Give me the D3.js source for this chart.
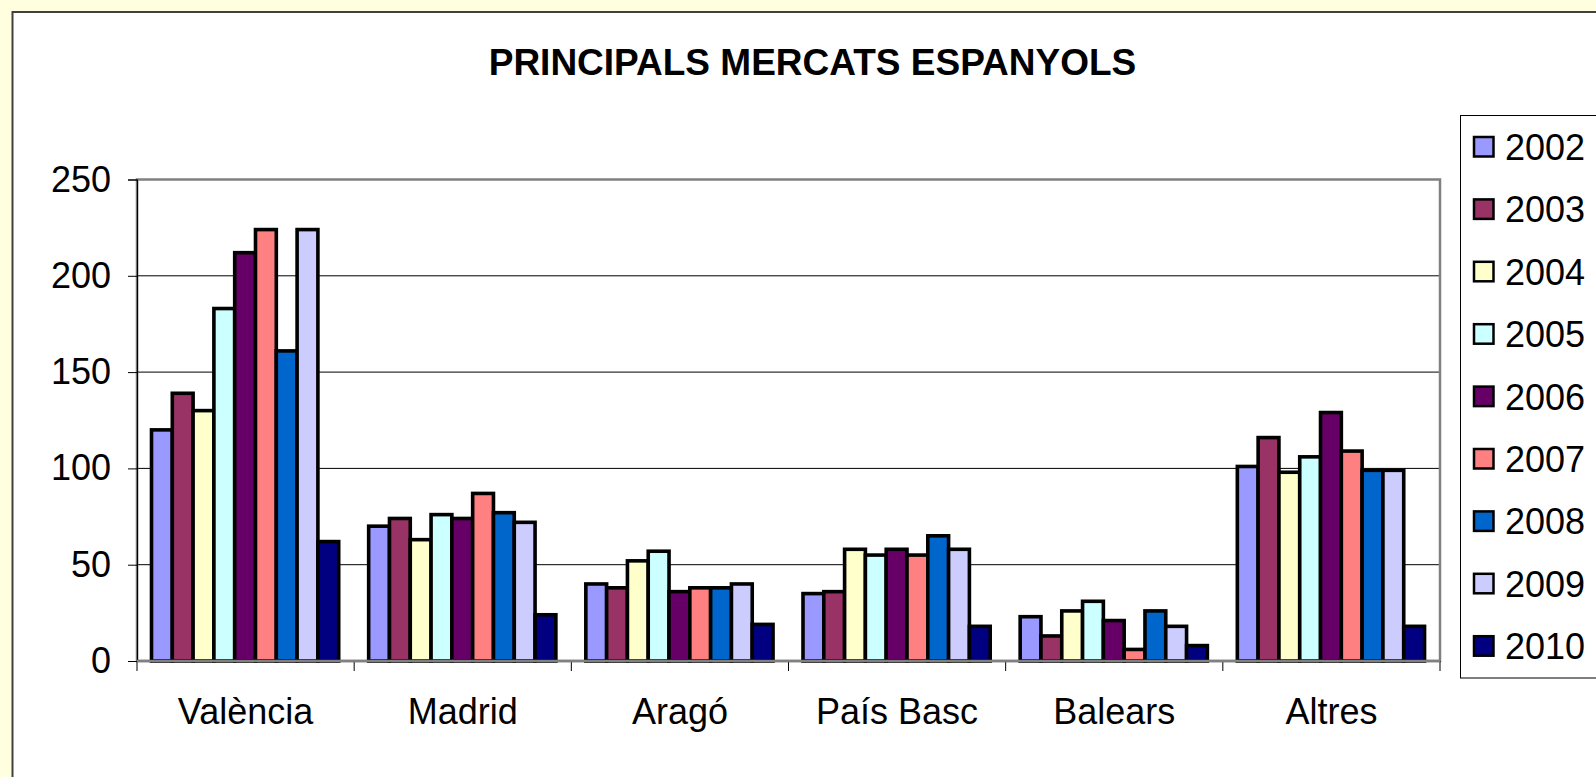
<!DOCTYPE html>
<html>
<head>
<meta charset="utf-8">
<script src="https://cdn.jsdelivr.net/npm/d3@7"></script>
<style>
  html, body { margin: 0; padding: 0; background: #FFFFE0; overflow: hidden; }
  svg { display: block; }
  text { font-family: "Liberation Sans", Arial, sans-serif; fill: #000; }
</style>
</head>
<body>
<svg id="chart" width="1596" height="777"></svg>
<script>
// ---- data ----
const title = "PRINCIPALS MERCATS ESPANYOLS";
const categories = ["València", "Madrid", "Aragó", "País Basc", "Balears", "Altres"];
const years = ["2002", "2003", "2004", "2005", "2006", "2007", "2008", "2009", "2010"];
const v2002 = [120, 70, 40, 35, 23, 101];
const v2003 = [139, 74, 38, 36, 13, 116];
const v2004 = [130, 63, 52, 58, 26, 98];
const v2005 = [183, 76, 57, 55, 31, 106];
const v2006 = [212, 74, 36, 58, 21, 129];
const v2007 = [224, 87, 38, 55, 6, 109];
const v2008 = [161, 77, 38, 65, 26, 99];
const v2009 = [224, 72, 40, 58, 18, 99];
const v2010 = [62, 24, 19, 18, 8, 18];
const colors = ["#9999FF", "#993366", "#FFFFCC", "#CCFFFF", "#660066", "#FF8080", "#0066CC", "#CCCCFF", "#000080"];
const yTicks = [0, 50, 100, 150, 200, 250];

const seriesValues = [v2002, v2003, v2004, v2005, v2006, v2007, v2008, v2009, v2010];
const series = years.map((y, i) => ({ year: y, color: colors[i], values: seriesValues[i] }));

// ---- layout ----
const svg = d3.select("#chart");
const plot = { left: 137, right: 1440, top: 179.5, bottom: 661 };

// outer chart area
svg.append("rect")
  .attr("x", 12.5).attr("y", 12)
  .attr("width", 1620).attr("height", 800)
  .attr("fill", "#ffffff").attr("stroke", "#404040").attr("stroke-width", 2);

// title
svg.append("text")
  .attr("x", 812.5).attr("y", 75)
  .attr("text-anchor", "middle")
  .attr("font-size", 37).attr("font-weight", "bold")
  .text(title);

const x0 = d3.scaleBand().domain(categories).range([plot.left, plot.right]).padding(0);
const barW = 20.8;
const x1 = d3.scaleBand().domain(years).range([14.5, 14.5 + 9 * barW]).padding(0);
const y = d3.scaleLinear().domain([0, 250]).range([plot.bottom, plot.top]);

// gridlines
svg.append("g").selectAll("line")
  .data(yTicks.filter(t => t > 0 && t < 250))
  .join("line")
  .attr("x1", plot.left).attr("x2", plot.right)
  .attr("y1", d => y(d)).attr("y2", d => y(d))
  .attr("stroke", "#000").attr("stroke-width", 1);

// plot border
svg.append("rect")
  .attr("x", plot.left).attr("y", plot.top)
  .attr("width", plot.right - plot.left).attr("height", plot.bottom - plot.top)
  .attr("fill", "none").attr("stroke", "#808080").attr("stroke-width", 2.5);

// bars
const groups = svg.append("g").selectAll("g")
  .data(series).join("g")
  .attr("fill", d => d.color);
groups.selectAll("rect")
  .data(d => d.values.map((v, i) => ({ v, cat: categories[i], year: d.year })))
  .join("rect")
  .attr("x", d => x0(d.cat) + x1(d.year))
  .attr("y", d => y(d.v))
  .attr("width", x1.bandwidth())
  .attr("height", d => y(0) - y(d.v))
  .attr("stroke", "#000").attr("stroke-width", 3.6);

// y axis
const yAxis = svg.append("g")
  .attr("transform", `translate(${plot.left},0)`)
  .call(d3.axisLeft(y).tickValues(yTicks).tickSize(9).tickPadding(17));
yAxis.select(".domain").attr("stroke", "#000").attr("stroke-width", 1.2);
yAxis.selectAll(".tick line").attr("stroke", "#000");
yAxis.selectAll("text").attr("font-size", 36).attr("font-family", "'Liberation Sans', Arial, sans-serif");

// x axis: ticks at category boundaries
const bounds = categories.map(c => x0(c)).concat([plot.right]);
svg.append("g").selectAll("line")
  .data(bounds).join("line")
  .attr("x1", d => d).attr("x2", d => d)
  .attr("y1", plot.bottom).attr("y2", plot.bottom + 10)
  .attr("stroke", "#000").attr("stroke-width", 1);
svg.append("line")
  .attr("x1", plot.left).attr("x2", plot.right)
  .attr("y1", plot.bottom).attr("y2", plot.bottom)
  .attr("stroke", "#808080").attr("stroke-width", 2.5);

svg.append("g").selectAll("text")
  .data(categories).join("text")
  .attr("x", d => x0(d) + x0.bandwidth() / 2)
  .attr("y", 723.5)
  .attr("text-anchor", "middle")
  .attr("font-size", 36)
  .text(d => d);

// legend
const legend = svg.append("g");
legend.append("rect")
  .attr("x", 1460.5).attr("y", 115.5)
  .attr("width", 200).attr("height", 562.5)
  .attr("fill", "#ffffff").attr("stroke", "#000").attr("stroke-width", 1);
const items = legend.selectAll("g.item")
  .data(series).join("g").attr("class", "item")
  .attr("transform", (d, i) => `translate(0,${147 + i * 62.4})`);
items.append("rect")
  .attr("x", 1474).attr("y", -10)
  .attr("width", 19.5).attr("height", 19.5)
  .attr("fill", d => d.color)
  .attr("stroke", "#000").attr("stroke-width", 2.5);
items.append("text")
  .attr("x", 1505).attr("y", 13)
  .attr("font-size", 36)
  .text(d => d.year);
</script>
</body>
</html>
